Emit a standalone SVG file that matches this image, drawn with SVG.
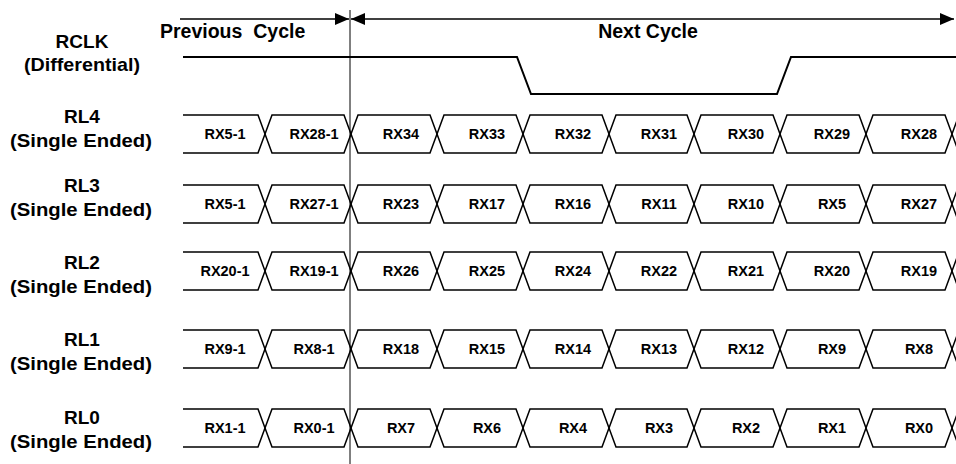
<svg xmlns="http://www.w3.org/2000/svg" xmlns:xlink="http://www.w3.org/1999/xlink" width="956" height="464" viewBox="0 0 956 464">
<style>
.lbl{font-family:"Liberation Sans",Arial,sans-serif;font-weight:bold;font-size:19px;fill:#000;text-anchor:middle}
.hdr{font-family:"Liberation Sans",Arial,sans-serif;font-weight:bold;font-size:19.5px;fill:#000;white-space:pre}
.rx{font-family:"Liberation Sans",Arial,sans-serif;font-weight:bold;font-size:14.5px;fill:#000;text-anchor:middle}
.bus{fill:none;stroke:#000;stroke-width:1.5}
.clk{fill:none;stroke:#000;stroke-width:2}
.arr{fill:none;stroke:#000;stroke-width:1.5}
</style>
<defs>
<marker id="ah" markerWidth="14" markerHeight="12" refX="14" refY="6" orient="auto-start-reverse" markerUnits="userSpaceOnUse">
<path d="M0,0 L14,6 L0,12 Z" fill="#000"/>
</marker>
<g id="bus">
<path class="bus" d="M183,-19 H258 L272,19 H344 L358,-19 H430 L444,19 H516 L530,-19 H602 L616,19 H687 L701,-19 H773 L787,19 H859 L873,-19 H945 L959,19"/>
<path class="bus" d="M183,19 H258 L272,-19 H344 L358,19 H430 L444,-19 H516 L530,19 H602 L616,-19 H687 L701,19 H773 L787,-19 H859 L873,19 H945 L959,-19"/>
</g>
</defs>

<g id="connectors">
<line class="arr" x1="180" y1="19" x2="349" y2="19" marker-end="url(#ah)"/>
<line class="arr" x1="351" y1="19" x2="954" y2="19" marker-start="url(#ah)" marker-end="url(#ah)"/>
<line x1="350" y1="10" x2="350" y2="464" stroke="#000" stroke-width="1"/>
</g>

<g id="headers">
<text class="hdr" x="160" y="38" xml:space="preserve">Previous  Cycle</text>
<text class="hdr" x="648" y="38" text-anchor="middle">Next Cycle</text>
</g>

<g id="rclk">
<text class="lbl" x="82" y="48">RCLK</text>
<text class="lbl" x="82" y="71" textLength="116" lengthAdjust="spacingAndGlyphs">(Differential)</text>
<path class="clk" d="M183,57 H517 L531,94 H777 L791,57 H956"/>
</g>

<g id="rl4">
<text class="lbl" x="82" y="123">RL4</text>
<text class="lbl" x="81" y="147" textLength="142" lengthAdjust="spacingAndGlyphs">(Single Ended)</text>
<use xlink:href="#bus" href="#bus" y="134"/>
<text class="rx" x="225" y="139">RX5-1</text>
<text class="rx" x="314" y="139">RX28-1</text>
<text class="rx" x="401" y="139">RX34</text>
<text class="rx" x="487" y="139">RX33</text>
<text class="rx" x="573" y="139">RX32</text>
<text class="rx" x="659" y="139">RX31</text>
<text class="rx" x="746" y="139">RX30</text>
<text class="rx" x="832" y="139">RX29</text>
<text class="rx" x="919" y="139">RX28</text>
</g>

<g id="rl3">
<text class="lbl" x="82" y="192">RL3</text>
<text class="lbl" x="81" y="216" textLength="142" lengthAdjust="spacingAndGlyphs">(Single Ended)</text>
<use xlink:href="#bus" href="#bus" y="204"/>
<text class="rx" x="225" y="209">RX5-1</text>
<text class="rx" x="314" y="209">RX27-1</text>
<text class="rx" x="401" y="209">RX23</text>
<text class="rx" x="487" y="209">RX17</text>
<text class="rx" x="573" y="209">RX16</text>
<text class="rx" x="659" y="209">RX11</text>
<text class="rx" x="746" y="209">RX10</text>
<text class="rx" x="832" y="209">RX5</text>
<text class="rx" x="919" y="209">RX27</text>
</g>

<g id="rl2">
<text class="lbl" x="82" y="269">RL2</text>
<text class="lbl" x="81" y="293" textLength="142" lengthAdjust="spacingAndGlyphs">(Single Ended)</text>
<use xlink:href="#bus" href="#bus" y="271"/>
<text class="rx" x="225" y="276">RX20-1</text>
<text class="rx" x="314" y="276">RX19-1</text>
<text class="rx" x="401" y="276">RX26</text>
<text class="rx" x="487" y="276">RX25</text>
<text class="rx" x="573" y="276">RX24</text>
<text class="rx" x="659" y="276">RX22</text>
<text class="rx" x="746" y="276">RX21</text>
<text class="rx" x="832" y="276">RX20</text>
<text class="rx" x="919" y="276">RX19</text>
</g>

<g id="rl1">
<text class="lbl" x="82" y="346">RL1</text>
<text class="lbl" x="81" y="370" textLength="142" lengthAdjust="spacingAndGlyphs">(Single Ended)</text>
<use xlink:href="#bus" href="#bus" y="349"/>
<text class="rx" x="225" y="354">RX9-1</text>
<text class="rx" x="314" y="354">RX8-1</text>
<text class="rx" x="401" y="354">RX18</text>
<text class="rx" x="487" y="354">RX15</text>
<text class="rx" x="573" y="354">RX14</text>
<text class="rx" x="659" y="354">RX13</text>
<text class="rx" x="746" y="354">RX12</text>
<text class="rx" x="832" y="354">RX9</text>
<text class="rx" x="919" y="354">RX8</text>
</g>

<g id="rl0">
<text class="lbl" x="82" y="424">RL0</text>
<text class="lbl" x="81" y="448" textLength="142" lengthAdjust="spacingAndGlyphs">(Single Ended)</text>
<use xlink:href="#bus" href="#bus" y="428"/>
<text class="rx" x="225" y="433">RX1-1</text>
<text class="rx" x="314" y="433">RX0-1</text>
<text class="rx" x="401" y="433">RX7</text>
<text class="rx" x="487" y="433">RX6</text>
<text class="rx" x="573" y="433">RX4</text>
<text class="rx" x="659" y="433">RX3</text>
<text class="rx" x="746" y="433">RX2</text>
<text class="rx" x="832" y="433">RX1</text>
<text class="rx" x="919" y="433">RX0</text>
</g>
</svg>
